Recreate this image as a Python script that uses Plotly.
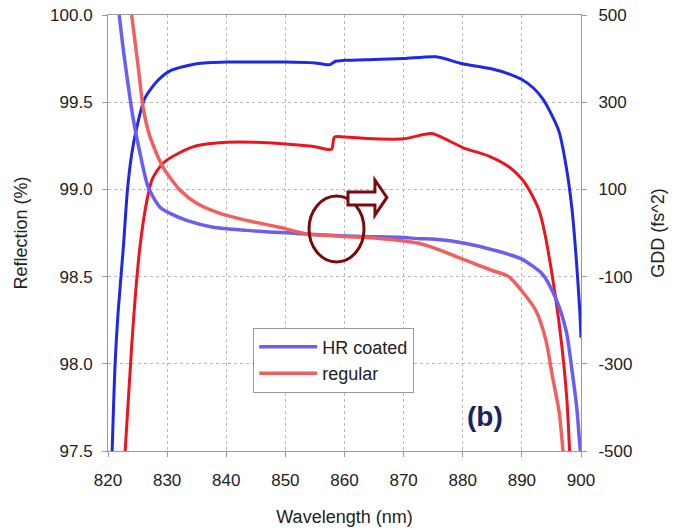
import plotly.graph_objects as go

# ---- data ----
hr_refl_wl = [820.7, 821.2, 821.7, 822.6, 823.3, 824.0, 824.9, 826.2, 828.3, 830.5, 835, 840, 845, 850,
              855, 857.5, 858.5, 860, 865, 870, 875.5, 880, 885, 888, 890, 892, 893.5, 895, 896.3,
              897.5, 898.5, 899.2, 899.8, 900]
hr_refl = [97.5, 98.0, 98.29, 98.67, 99.0, 99.2, 99.36, 99.52, 99.62, 99.68, 99.72, 99.73, 99.73, 99.73,
           99.725, 99.715, 99.735, 99.74, 99.745, 99.75, 99.76, 99.72, 99.69, 99.66, 99.63, 99.58, 99.52,
           99.43, 99.33, 99.13, 98.88, 98.6, 98.3, 98.15]

reg_refl_wl = [822.9, 824.0, 824.6, 825.4, 826.6, 827.5, 829.3, 832.1, 835, 840, 845, 850, 855, 857.8,
               858.3, 860, 865, 870, 874.7, 877, 880, 884.5, 887.8, 890, 891.2, 892.9, 893.8, 895.7,
               896.8, 897.6, 898.1]
reg_refl = [97.5, 98.1, 98.38, 98.67, 98.94, 99.06, 99.15, 99.21, 99.25, 99.27, 99.27, 99.26, 99.245, 99.23,
            99.3, 99.3, 99.29, 99.29, 99.32, 99.29, 99.24, 99.19, 99.13, 99.06, 99.0, 98.88, 98.76, 98.38,
            98.09, 97.8, 97.48]

hr_gdd_wl = [821.9, 822.5, 823.2, 824.2, 825.4, 826.8, 828.8, 830.5, 833.3, 837.8, 843.4, 851.9, 854,
             857.5, 863, 869.3, 872.7, 874.9, 880.6, 886, 888, 890, 893.4, 895.7, 897.5, 898.5, 899.3,
             899.8, 900]
hr_gdd = [500, 430, 359, 267, 184, 105, 59, 45, 29, 13, 6, -1, -3, -5, -8, -10, -13, -14, -24, -42, -50,
          -60, -93, -149, -225, -317, -403, -486, -510]

reg_gdd_wl = [824.0, 825.1, 826.0, 827.1, 829.3, 832.2, 835, 838.9, 843.4, 849, 854, 857.5, 863, 869.3,
              872.7, 874.9, 880.6, 885, 887.8, 890, 892.4, 894.1, 895.1, 896.3, 897.0]
reg_gdd = [500, 382, 283, 221, 151, 98, 68, 45, 29, 13, -3, -6, -10, -17, -24, -33, -63, -86, -100, -133,
           -179, -248, -324, -410, -507]

x_ticks = [820, 830, 840, 850, 860, 870, 880, 890, 900]
y_ticks = [97.5, 98.0, 98.5, 99.0, 99.5, 100.0]
y2_ticks = [-500, -300, -100, 100, 300, 500]
y2_labels = ["-500", "-300", "-100", "100", "300", "500"]

DARK_BLUE = "rgb(30,40,230)"
DARK_RED = "rgb(236,20,30)"
LIGHT_BLUE = "rgb(105,95,240)"
LIGHT_RED = "rgb(242,95,95)"
FONT = "Liberation Sans, Arial, sans-serif"

fig = go.Figure()
fig.add_trace(go.Scatter(x=hr_gdd_wl, y=hr_gdd, yaxis="y2", mode="lines", name="HR coated",
                         line=dict(color=LIGHT_BLUE, width=3.5, shape="spline", smoothing=0.7),
                         legendgroup="hr"))
fig.add_trace(go.Scatter(x=reg_gdd_wl, y=reg_gdd, yaxis="y2", mode="lines", name="regular",
                         line=dict(color=LIGHT_RED, width=3.5, shape="spline", smoothing=0.7),
                         legendgroup="reg"))
fig.add_trace(go.Scatter(x=hr_refl_wl, y=hr_refl, mode="lines", name="HR coated", showlegend=False,
                         line=dict(color=DARK_BLUE, width=3, shape="spline", smoothing=0.7),
                         legendgroup="hr"))
fig.add_trace(go.Scatter(x=reg_refl_wl, y=reg_refl, mode="lines", name="regular", showlegend=False,
                         line=dict(color=DARK_RED, width=3, shape="spline", smoothing=0.7),
                         legendgroup="reg"))

ANN = "rgb(120,12,12)"
# ellipse
fig.add_shape(type="circle", xref="x", yref="y", x0=854.0, x1=863.3, y0=98.584, y1=98.962,
              line=dict(color=ANN, width=3), fillcolor="rgba(0,0,0,0)")
# hollow block arrow
fig.add_shape(type="path", xref="x", yref="y",
              path="M 860.59,98.985 L 865.15,98.985 L 865.15,99.054 L 867.17,98.954 "
                   "L 865.15,98.853 L 865.15,98.911 L 860.59,98.911 Z",
              line=dict(color=ANN, width=3), fillcolor="white")

fig.add_annotation(x=883.7, y=97.695, xref="x", yref="y", text="<b>(b)</b>", showarrow=False,
                   font=dict(family=FONT, size=28, color="rgb(25,35,100)"))

axis_common = dict(showline=True, linecolor="#999999", linewidth=1, ticks="outside", ticklen=5,
                   tickcolor="#999999", tickfont=dict(family=FONT, size=17, color="#222"),
                   zeroline=False, automargin=False)

fig.update_layout(
    width=676, height=530,
    margin=dict(l=108, r=95, t=15, b=79),
    paper_bgcolor="white", plot_bgcolor="white",
    font=dict(family=FONT, size=17, color="#222"),
    xaxis=dict(range=[820, 900], tickvals=x_ticks, showgrid=True, gridcolor="#b8b8b8", griddash="dot",
               gridwidth=1, mirror=True, ticklabelstandoff=9,
               title=dict(text="Wavelength (nm)", font=dict(family=FONT, size=18, color="#222"), standoff=20),
               **axis_common),
    yaxis=dict(range=[97.5, 100.0], tickvals=y_ticks, tickformat=".1f", showgrid=True, gridcolor="#b8b8b8",
               griddash="dot", gridwidth=1, ticklabelstandoff=6,
               title=dict(text="Reflection (%)", font=dict(family=FONT, size=18, color="#222"), standoff=17),
               **axis_common),
    yaxis2=dict(range=[-500, 500], tickvals=y2_ticks, ticktext=y2_labels, overlaying="y", side="right",
                showgrid=False, ticklabelstandoff=8,
                title=dict(text="GDD (fs^2)", font=dict(family=FONT, size=18, color="#222"), standoff=19),
                **axis_common),
    legend=dict(x=0.307, y=0.283, xanchor="left", yanchor="top", bgcolor="white",
                bordercolor="#999999", borderwidth=1, font=dict(family=FONT, size=18, color="#222"),
                tracegroupgap=0, itemwidth=58),
    showlegend=True,
)

fig.write_html("out.html")
